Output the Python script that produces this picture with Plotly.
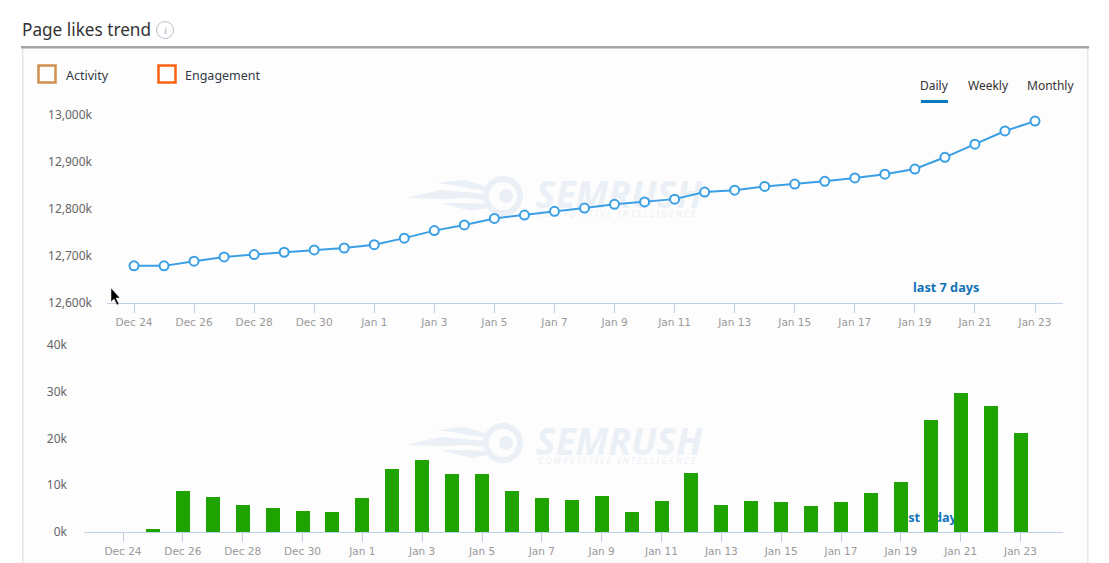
import pandas as pd
import plotly.graph_objects as go

W, H = 1109, 563

dates = pd.date_range("2023-12-24", "2024-01-23", freq="D")
likes_k = [12679, 12679, 12689, 12698, 12703, 12708, 12713, 12717, 12724, 12738, 12754,
           12766, 12780, 12787, 12795, 12802, 12810, 12815, 12821, 12836, 12840, 12848,
           12853, 12859, 12866, 12874, 12885, 12910, 12938, 12966, 12987]
new_likes_k = [0, 0.6, 8.8, 7.5, 5.8, 5.1, 4.5, 4.3, 7.3, 13.5, 15.4, 12.4, 12.4, 8.8, 7.3, 6.8,
               7.7, 4.3, 6.6, 12.6, 5.8, 6.6, 6.4, 5.6, 6.4, 8.3, 10.7, 24.0, 29.7, 26.9, 21.2]
top_ticks = [12600, 12700, 12800, 12900, 13000]
top_labels = ["12,600k", "12,700k", "12,800k", "12,900k", "13,000k"]
bottom_ticks = [0, 10, 20, 30, 40]
bottom_labels = ["0k", "10k", "20k", "30k", "40k"]

BLUE = "#3a9fe4"
GREEN = "#1fa300"
AXIS = "#c0d0e0"
SANS = "Noto Sans, sans-serif"
TICK = "DejaVu Sans, sans-serif"


def X(p):
    return p / W


def Y(p):
    return 1 - p / H


def path(points, close=True):
    s = "M " + " L ".join(f"{X(a):.5f},{Y(b):.5f}" for a, b in points)
    return s + (" Z" if close else "")


def rect(x0, y0, x1, y1, fill=None, line=None, lw=0, layer="below", **kw):
    return dict(type="rect", xref="paper", yref="paper", x0=X(x0), x1=X(x1), y0=Y(y0), y1=Y(y1),
                fillcolor=fill or "rgba(0,0,0,0)", line=dict(color=line or "rgba(0,0,0,0)", width=lw),
                layer=layer, **kw)


def ring(cx, cy, r, fill=None, line=None, lw=0):
    return dict(type="circle", xref="paper", yref="paper", x0=X(cx - r), x1=X(cx + r),
                y0=Y(cy + r), y1=Y(cy - r), fillcolor=fill or "rgba(0,0,0,0)",
                line=dict(color=line or "rgba(0,0,0,0)", width=lw), layer="below")


def label_below(cx, cy, w, text, size, color, weight="normal", style="normal", family=SANS):
    return rect(cx - w / 2, cy - 12, cx + w / 2, cy + 12,
                label=dict(text=text, textposition="middle center",
                           font=dict(family=family, size=size, color=color, weight=weight, style=style)))


def note(x, y, text, size=12, color="#333", anchor="left", family=SANS, **kw):
    return dict(xref="paper", yref="paper", x=X(x), y=Y(y), text=text, showarrow=False, xanchor=anchor,
                yanchor="middle", font=dict(family=family, size=size, color=color), **kw)


def blob(points, color):
    return dict(type="path", xref="paper", yref="paper", layer="below", fillcolor=color, line=dict(width=0),
                path=path(points))


def watermark(cy):
    wm = "#ebf0f6"
    return [
        ring(503, cy, 17, None, wm, 6),
        ring(506, cy, 7, wm),
        blob([(405, cy + 2), (440, cy - 6), (466, cy - 4), (486, cy - 2), (484, cy + 4), (468, cy + 2), (445, cy + 3)], wm),
        blob([(436, cy - 13), (465, cy - 16), (488, cy - 9), (486, cy - 5), (468, cy - 8), (452, cy - 11)], wm),
        blob([(440, cy + 7), (468, cy + 7), (487, cy + 8), (488, cy + 12), (472, cy + 15), (455, cy + 11)], wm),
        label_below(619, cy, 172, "SEMRUSH", 37, wm, weight="bold", style="italic"),
        label_below(617, cy + 18, 172, "C O M P E T I T I V E   I N T E L L I G E N C E", 8.5, wm, style="italic"),
    ]


def days(base, d):
    return pd.Timestamp(base) + pd.Timedelta(days=d)


fig = go.Figure()
fig.add_trace(go.Scatter(x=dates, y=likes_k, mode="lines+markers", xaxis="x", yaxis="y",
                         line=dict(color=BLUE, width=2),
                         marker=dict(size=9, color="white", line=dict(color=BLUE, width=2)),
                         showlegend=False))
fig.add_trace(go.Bar(x=dates, y=new_likes_k, xaxis="x2", yaxis="y2", marker=dict(color=GREEN, line=dict(width=0)),
                     width=14 / 29.92 * 86400000, showlegend=False))

tick_style = dict(type="date", dtick=172800000, tickformat="%b %-d", ticks="outside", ticklen=9, tickwidth=1,
                  tickcolor=AXIS, showline=True, linecolor=AXIS, linewidth=1, showgrid=False, zeroline=False,
                  automargin=False, tickfont=dict(family=TICK, size=10.5, color="#999999"))
y_style = dict(showgrid=False, zeroline=False, showline=False, ticks="", tickmode="array", automargin=False,
               tickfont=dict(family=SANS, size=12, color="#666666"))

shapes = [
    rect(22, 48, 1088, H, "#fdfdfd"),
    rect(22, 48, 23.5, H, "#e6e6e6"),
    rect(1087, 48, 1088.5, H, "#e6e6e6"),
    rect(21, 46, 1089, 48.5, "#a5a5a5"),
    rect(38.5, 65.5, 55.5, 82.5, None, "#d09050", 2.5, layer="above"),
    rect(158.5, 65.5, 175.5, 82.5, None, "#f9620f", 2.5, layer="above"),
    rect(921, 100, 948, 103, "#0b7bc1", layer="above"),
    ring(165, 30, 8.5, None, "#b8c2cc", 1),
    dict(type="path", xref="paper", yref="paper", layer="above", fillcolor="#000000",
         line=dict(color="white", width=0.5),
         path=path([(111, 288), (111, 302), (114, 299), (117, 305), (119, 304), (116, 298), (120, 298)])),
]
shapes += watermark(196) + watermark(443)
shapes.append(label_below(930, 518, 80, "last 7 days", 12.7, "#1273b8", weight="bold"))

fig.update_layout(
    width=W, height=H, margin=dict(l=0, r=0, t=0, b=0), autosize=False,
    paper_bgcolor="white", plot_bgcolor="rgba(0,0,0,0)", bargap=0,
    xaxis=dict(domain=[X(107), X(1063)], anchor="y", tick0="2023-12-24",
               range=[days("2023-12-24", -27 / 30.03), days("2024-01-23", 28 / 30.03)], **tick_style),
    yaxis=dict(domain=[Y(303), Y(115)], anchor="x", range=[12600, 13000], tickvals=top_ticks, ticktext=top_labels,
               ticklabelstandoff=14, **y_style),
    xaxis2=dict(domain=[X(84), X(1063)], anchor="y2", tick0="2023-12-24",
                range=[days("2023-12-24", -39 / 29.92), days("2024-01-23", 42.5 / 29.92)], **tick_style),
    yaxis2=dict(domain=[Y(532), Y(345)], anchor="x2", range=[0, 40], tickvals=bottom_ticks, ticktext=bottom_labels,
                ticklabelstandoff=16, **y_style),
    shapes=shapes,
    annotations=[
        note(20, 29.5, "Page likes trend", 17.2, "#333333"),
        note(165, 30, "<i>i</i>", 11, "#a8b2bc", "center", family="Liberation Serif"),
        note(64, 75.5, "Activity", 12.5, "#333a44"),
        note(183, 75.5, "Engagement", 12.5, "#333a44"),
        note(934.5, 85.5, "Daily", 12, "#333333", "center"),
        note(988, 85.5, "Weekly", 12, "#333333", "center"),
        note(1050, 85.5, "Monthly", 12, "#333333", "center"),
        note(946, 287, "<b>last 7 days</b>", 12.7, "#1273b8", "center"),
    ],
)

fig.write_html("out.html", config=dict(displayModeBar=False),
               post_script="document.body.style.margin='0';document.body.style.overflow='hidden';")
